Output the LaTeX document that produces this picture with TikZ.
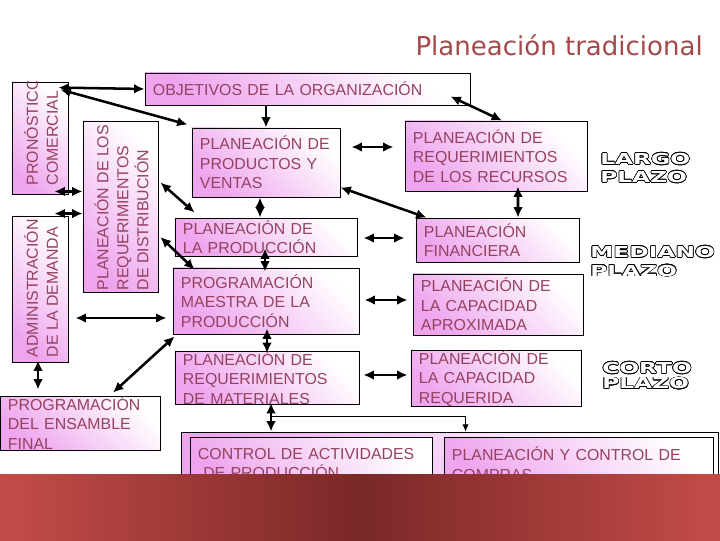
\documentclass[tikz,border=0pt]{standalone}
\usepackage{fontspec}
\setmainfont{Liberation Sans}
\newfontfamily\titulofont{DejaVu Sans}
\newfontfamily\plazofont[FakeStretch=1.55]{DejaVu Sans Bold}
\usepackage[copies]{contour}
\contourlength{0.45pt}
\usepackage{xcolor}
\usepackage{tikz}
\usetikzlibrary{arrows.meta,calc}
\definecolor{rosa}{RGB}{238,165,238}
\definecolor{letra}{RGB}{150,65,95}
\definecolor{titulo}{RGB}{165,72,72}
\definecolor{bandaborde}{RGB}{196,76,72}
\definecolor{bandacentro}{RGB}{122,40,40}

\begin{document}
\begin{tikzpicture}[x=0.025cm, y=-0.025cm, >={Latex[length=2.6mm,width=2.4mm]},
    caja/.style={draw, line width=0.6pt, top color=white, bottom color=rosa, shading angle=-45,
        text=letra, align=left, inner xsep=0.2cm, inner ysep=0pt, font=\fontsize{11.3}{13.9}\selectfont},
    vtexto/.style={rotate=90, anchor=west, align=left, inner sep=0pt, text=letra,
        font=\fontsize{11.3}{14.2}\selectfont},
    flecha/.style={line width=1.8pt},
    plazo/.style={anchor=north west, align=left, inner sep=0pt, text=white}]
        \useasboundingbox (0,0) rectangle (720,540);

        % Title
        \node[anchor=base east, inner sep=0pt, text=titulo, font=\titulofont\fontsize{18.5}{22}\selectfont] (titulo) at (703,55) {Planeación tradicional};

        % Left column
        \node[caja, minimum width=1.4cm, minimum height=2.8cm] (pronostico) at (40,138) {};
        \node[caja, minimum width=1.4cm, minimum height=3.65cm] (demanda) at (40,289) {};
        \node[caja, minimum width=1.875cm, minimum height=4.275cm] (distribucion) at (120.5,206.5) {};
        \begin{scope}
            \clip (pronostico.south west) rectangle (pronostico.north east);
            \node[vtexto] (pronostico-t) at ($(pronostico.south)+(1,-9)$) {PRONÓSTICO\\COMERCIAL};
        \end{scope}
        \node[vtexto] (demanda-t) at ($(demanda.south)+(1,-5)$) {ADMINISTRACIÓN\\DE LA DEMANDA};
        \node[vtexto] (distribucion-t) at ($(distribucion.south)+(1,-2)$) {PLANEACIÓN DE LOS\\REQUERIMIENTOS\\DE DISTRIBUCIÓN};
        \node[caja, minimum width=4cm, minimum height=1.35cm, text width=3.6cm] (ensamble) at (80,423) {PROGRAMACIÓN\\DEL ENSAMBLE\\FINAL};

        % Objectives
        \node[caja, minimum width=8.125cm, minimum height=0.8cm, text width=7.725cm] (objetivos) at (307.5,89) {OBJETIVOS DE LA ORGANIZACIÓN};

        % Middle column
        \node[caja, minimum width=3.7cm, minimum height=1.725cm, text width=3.3cm] (productos) at (266,162.5) {PLANEACIÓN DE\\PRODUCTOS Y\\VENTAS};
        \node[caja, minimum width=4.55cm, minimum height=0.95cm, text width=4.15cm] (produccion) at (266,237) {PLANEACIÓN DE\\LA PRODUCCIÓN};
        \node[caja, minimum width=4.65cm, minimum height=1.65cm, text width=4.25cm] (maestra) at (266,301) {PROGRAMACIÓN\\MAESTRA DE LA\\PRODUCCIÓN};
        \node[caja, minimum width=4.6cm, minimum height=1.25cm, text width=4.2cm] (materiales) at (267,378) {PLANEACIÓN DE\\REQUERIMIENTOS\\DE MATERIALES};

        % Right column
        \node[caja, minimum width=4.55cm, minimum height=1.75cm, text width=4.15cm] (recursos) at (496,156) {PLANEACIÓN DE\\REQUERIMIENTOS\\DE LOS RECURSOS};
        \node[caja, minimum width=4.075cm, minimum height=1.1cm, text width=3.675cm] (financiera) at (497.5,240) {PLANEACIÓN\\FINANCIERA};
        \node[caja, minimum width=4.25cm, minimum height=1.525cm, text width=3.85cm] (aproximada) at (498,304.5) {PLANEACIÓN DE\\LA CAPACIDAD\\APROXIMADA};
        \node[caja, minimum width=4.25cm, minimum height=1.325cm, text width=3.85cm] (requerida) at (496,378.5) {PLANEACIÓN DE\\LA CAPACIDAD\\REQUERIDA};

        % Horizons
        \node[plazo, font=\plazofont\fontsize{10.7}{12.8}\selectfont] (largo) at (600,153) {\contour{black}{LARGO}\\\contour{black}{PLAZO}};
        \node[plazo, font=\plazofont\fontsize{10.7}{13.2}\selectfont] (mediano) at (590,246) {\contour{black}{MEDIANO}\\\contour{black}{PLAZO}};
        \node[plazo, font=\plazofont\fontsize{10.7}{10.9}\selectfont] (corto) at (602,362) {\contour{black}{CORTO}\\\contour{black}{PLAZO}};

        % Bottom
        \node[caja, minimum width=13.425cm, minimum height=1.7cm] (grande) at (449.5,466) {};
        \node[caja, minimum width=6.05cm, minimum height=1.325cm, text width=5.65cm] (control) at (311,463.5) {CONTROL DE ACTIVIDADES\\~DE PRODUCCIÓN};
        \node[caja, minimum width=6.725cm, minimum height=1.325cm, text width=6.325cm] (compras) at (578.5,463.5) {PLANEACIÓN Y CONTROL DE\\COMPRAS};

        % Arrows
        \draw[flecha, <->] ($(pronostico.north east)+(-10,6)$) -- (objetivos.west);
        \draw[flecha, <->] ($(pronostico.north east)+(-8,8)$) -- ($(productos.north west)+(-4,-3)$);
        \draw[flecha, <->] ($(pronostico.south east)+(-14,-3)$) coordinate (p1) -- (p1 -| distribucion.west);
        \draw[flecha, <->] ($(demanda.north east)+(-14,-2)$) coordinate (p2) -- (p2 -| distribucion.west);
        \draw[flecha, ->] (objetivos.south -| productos.north) -- (productos.north);
        \draw[flecha, <->] ($(productos.east)+(11,-15.5)$) -- ($(recursos.west)+(-11,-9)$);
        \draw[flecha, <->] ($(objetivos.south east)+(-20,-9)$) -- ($(recursos.north)+(6,0)$);
        \draw[flecha, <->] ($(productos.south)+(-6,0)$) -- ($(produccion.north)+(-6,0)$);
        \draw[flecha, <->] ($(productos.south east)+(0,-10)$) -- ($(financiera.north west)+(11,0)$);
        \draw[flecha, <->] ($(distribucion.east)+(2,-24)$) -- ($(produccion.north west)+(20,-5)$);
        \draw[flecha, <->] ($(distribucion.east)+(2,30.5)$) -- ($(maestra.north west)+(22,2)$);
        \draw[flecha, <->] ($(demanda.east)+(7,29)$) -- ($(maestra.west)+(-6,17)$);
        \draw[flecha, <->] ($(maestra.south west)+(2,2)$) -- ($(ensamble.north)+(33,-3)$);
        \draw[flecha, <->] ($(demanda.south)+(-2,-2)$) -- ($(ensamble.north)+(-42,-6)$);
        \draw[flecha, <->] ($(produccion.south)+(-1,-8)$) -- ($(maestra.north)+(-1,4)$);
        \draw[flecha, <->] ($(maestra.south)+(1,-6)$) -- ($(materiales.north)+(0,2)$);
        \draw[flecha, <->] ($(produccion.east)+(6,1)$) -- ($(financiera.west)+(-11,-2)$);
        \draw[flecha, <->] ($(maestra.east)+(5,-1)$) -- ($(aproximada.west)+(-5,-4.5)$);
        \draw[flecha, <->] ($(materiales.east)+(4,-3)$) -- ($(requerida.west)+(-3,-3.5)$);
        \draw[flecha, <->] ($(recursos.south)+(22,-5)$) -- ($(financiera.north)+(20.5,0)$);
        \draw[flecha, <->] ($(materiales.south)+(4,-2)$) coordinate (p3) -- (p3 |- grande.north) coordinate[pos=0.48] (rama);
        \draw[line width=0.7pt, -{Latex[length=1.8mm,width=1.6mm]}] (rama) -| ($(grande.north west)+(285,0)$);

        % Band
        \shade[left color=bandaborde, right color=bandaborde, middle color=bandacentro] (0,474) rectangle (720,540);
    \end{tikzpicture}
\end{document}
